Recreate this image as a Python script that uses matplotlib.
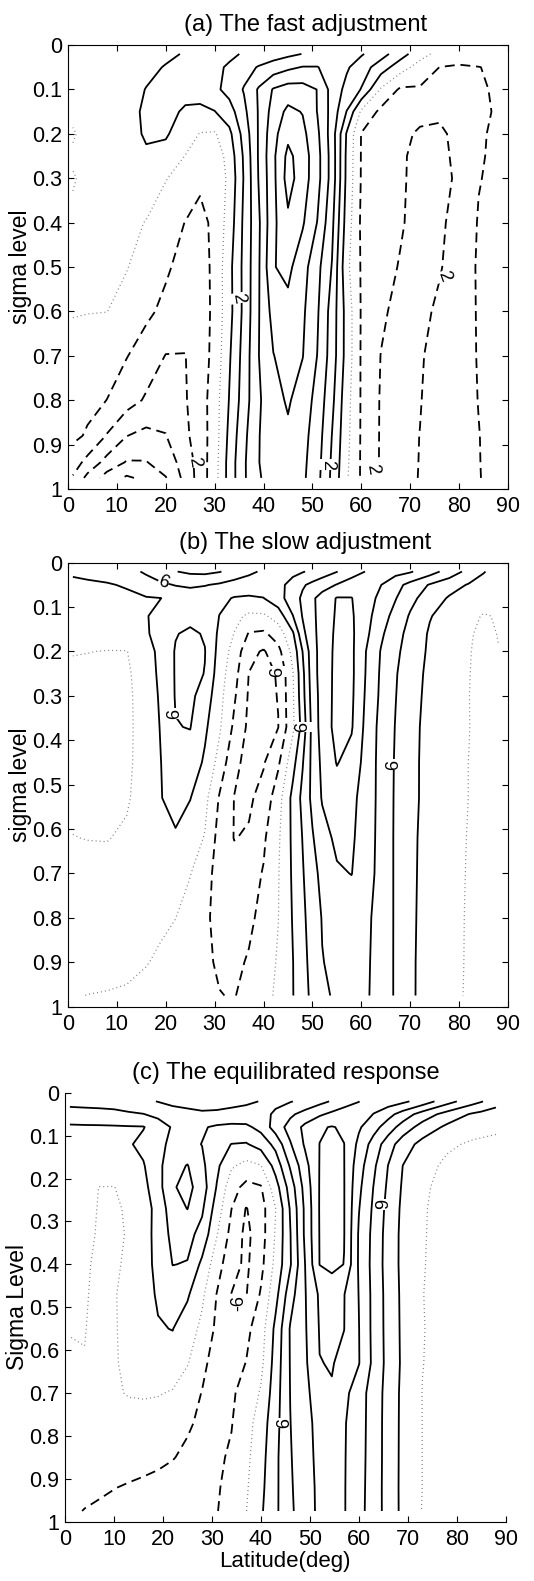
import numpy as np
import matplotlib.pyplot as plt

plt.rcParams['font.family'] = ['Liberation Sans', 'DejaVu Sans']
plt.rcParams['lines.dashed_pattern'] = [5.5, 3.2]
plt.rcParams['lines.dotted_pattern'] = [0.8, 2.4]

# values are given in units of the contour interval

# ---- (a) the fast adjustment ----
lat_a = [1, 4, 8, 12, 16, 20, 24, 27, 30, 33, 36, 39, 42, 45, 48, 51, 54, 57, 60, 64, 68, 72, 76, 80, 84, 88]
sig_a = [0.02, 0.05, 0.1, 0.15, 0.2, 0.25, 0.3, 0.4, 0.5, 0.6, 0.7, 0.8, 0.88, 0.94, 0.975]
psi_a = [
    [0.3, 0.37, 0.46, 0.55, 0.72, 0.87, 1.05, 1.31, 1.57, 1.83, 2.08, 2.31, 2.55, 2.78, 3.02, 3.27, 3.52, 3.4, 3.1, 2.4, 1.43, 0.39, -0.33, -0.58, -0.55, -0.5],
    [0.3, 0.38, 0.5, 0.64, 0.84, 1.04, 1.35, 1.59, 1.82, 2.11, 2.61, 3.08, 3.45, 3.8, 4.05, 4.04, 3.6, 3.13, 2.48, 1.5, 0.43, -0.42, -1.01, -1.1, -1.02, -0.85],
    [0.3, 0.39, 0.5, 0.75, 1.02, 1.2, 1.17, 1.3, 1.77, 2.35, 3.07, 4.11, 5.08, 5.43, 5.38, 4.98, 3.64, 2.71, 1.95, -0.1, -1.15, -1.1, -1.2, -1.2, -1.1, -0.9],
    [0.25, 0.36, 0.5, 0.8, 1.1, 1.15, 0.93, 0.84, 0.97, 1.56, 2.76, 4.08, 5.41, 6.24, 5.95, 4.97, 3.65, 1.97, -0.17, -1.23, -1.6, -1.83, -1.87, -1.7, -1.19, -0.9],
    [-0.1, 0.33, 0.5, 0.78, 1.07, 1.09, 0.56, -0.05, -0.1, 0.75, 2.38, 4.09, 5.67, 6.75, 6.26, 5.2, 3.53, 0.91, -1.04, -1.57, -1.86, -2.08, -2.13, -1.79, -1.14, -0.8],
    [0.15, 0.3, 0.5, 0.73, 0.92, 0.73, -0.03, -0.41, -0.6, 0.38, 2.15, 4.1, 5.8, 7.26, 6.5, 5.35, 3.6, 0.8, -1.06, -1.65, -1.93, -2.14, -2.19, -1.82, -1.1, -0.8],
    [-0.08, 0.25, 0.45, 0.55, 0.42, 0.05, -0.47, -0.8, -0.74, 0.23, 2.08, 4.05, 5.75, 7.4, 6.48, 5.35, 3.6, 0.77, -1.07, -1.65, -1.93, -2.16, -2.25, -1.86, -1.04, -0.8],
    [0.2, 0.24, 0.3, 0.2, -0.03, -0.6, -1.02, -1.3, -0.77, 0.43, 2.21, 3.84, 5.77, 6.8, 6.11, 4.97, 3.25, 0.56, -1.16, -1.7, -1.93, -2.26, -2.18, -1.62, -0.94, -0.75],
    [0.15, 0.15, 0.15, 0.04, -0.39, -0.86, -1.35, -1.42, -0.78, 0.71, 2.26, 3.89, 5.95, 6.24, 5.4, 4.29, 2.95, 0.25, -1.09, -1.74, -2.05, -2.4, -2.08, -1.5, -0.9, -0.7],
    [0.05, 0.03, 0.01, -0.33, -0.8, -1.24, -1.69, -1.55, -0.75, 0.67, 2.25, 3.94, 5.36, 5.72, 5.17, 4.12, 2.59, 0.62, -1.08, -1.85, -2.27, -2.26, -1.82, -1.35, -0.94, -0.7],
    [-0.3, -0.48, -0.69, -0.96, -1.47, -2.03, -2.02, -1.49, -0.71, 0.88, 2.4, 3.98, 4.97, 5.4, 5.03, 3.98, 2.53, 0.62, -1.1, -2.02, -2.4, -2.08, -1.7, -1.35, -0.95, -0.7],
    [-0.6, -0.77, -1.01, -1.59, -2.12, -2.6, -2.07, -1.48, -0.5, 1.05, 2.5, 3.87, 4.64, 5.12, 4.53, 3.68, 2.25, 0.38, -1.09, -2.08, -2.31, -2.03, -1.68, -1.34, -0.98, -0.7],
    [-0.8, -1.1, -2.07, -2.98, -3.27, -3.03, -2.19, -1.51, -0.5, 1.25, 2.75, 3.96, 4.52, 4.82, 4.33, 3.5, 1.98, 0.29, -1.1, -2.09, -2.24, -1.99, -1.67, -1.35, -1.02, -0.7],
    [-1.5, -2.32, -3.35, -4.08, -4.05, -3.5, -2.6, -1.54, -0.44, 1.4, 2.86, 3.98, 4.38, 4.67, 4.24, 3.37, 1.85, 0.19, -1.11, -2.1, -2.23, -1.98, -1.65, -1.35, -1.03, -0.7],
    [-2.1, -3.29, -4.44, -5.15, -4.75, -4.05, -2.69, -1.56, -0.41, 1.4, 2.86, 3.93, 4.32, 4.54, 4.19, 3.3, 1.79, 0.12, -1.11, -2.1, -2.23, -1.97, -1.66, -1.35, -1.04, -0.7],
]

# ---- (b) the slow adjustment ----
lat_b = [1, 4, 8, 12, 16, 19, 22, 25, 28, 31, 34, 37, 40, 43, 46, 48, 50, 52, 55, 58, 61, 64, 67, 70, 74, 78, 82, 85, 88]
sig_b = [0.02, 0.05, 0.08, 0.12, 0.16, 0.2, 0.25, 0.3, 0.37, 0.45, 0.53, 0.62, 0.7, 0.8, 0.9, 0.975]
psi_b = [
    [1.1, 1.19, 1.3, 1.69, 2.13, 2.55, 2.97, 3.18, 3.24, 3.05, 2.66, 2.2, 1.86, 1.6, 1.8, 1.94, 2.18, 2.51, 2.97, 3.55, 4.04, 4.25, 4.32, 4.1, 3.44, 2.57, 1.69, 1.06, 0.6],
    [0.85, 0.88, 0.94, 1.07, 1.6, 1.84, 2.04, 2.15, 2.05, 1.87, 1.6, 1.5, 1.4, 1.76, 2.29, 2.88, 3.25, 3.57, 4.05, 4.5, 4.6, 4.02, 3.34, 2.69, 1.92, 1.4, 0.92, 0.63, 0.35],
    [0.65, 0.7, 0.77, 0.84, 0.93, 0.99, 1.4, 1.48, 1.43, 1.22, 0.94, 0.88, 0.98, 1.63, 2.52, 3.19, 3.84, 4.39, 5.06, 5.03, 4.42, 3.76, 3.05, 2.28, 1.51, 0.9, 0.5, 0.34, 0.25],
    [0.45, 0.5, 0.57, 0.71, 0.94, 1.33, 1.63, 1.71, 1.6, 0.98, 0.25, -0.17, -0.15, 0.43, 1.98, 3.07, 3.79, 4.41, 5.12, 5.12, 4.33, 3.46, 2.66, 1.9, 1.06, 0.58, 0.18, -0.05, 0.05],
    [0.35, 0.4, 0.47, 0.63, 0.9, 1.36, 1.95, 2.17, 1.92, 0.79, -0.03, -1.07, -1.17, -0.55, 0.86, 2.73, 3.71, 4.43, 5.19, 5.17, 4.21, 3.17, 2.38, 1.67, 0.89, 0.45, 0.07, -0.15, 0.02],
    [0.05, 0.02, -0.03, -0.03, 0.6, 1.28, 2.07, 2.26, 2.03, 0.64, -0.39, -1.7, -2.11, -1.3, 0.31, 2.02, 3.6, 4.44, 5.24, 5.19, 3.98, 2.95, 2.2, 1.58, 0.84, 0.4, 0.04, -0.2, -0.02],
    [-0.2, -0.22, -0.25, -0.15, 0.5, 1.23, 2.07, 2.3, 1.97, 0.45, -0.65, -2.02, -2.26, -1.93, -0.06, 1.75, 3.56, 4.46, 5.26, 5.2, 3.93, 2.87, 2.08, 1.43, 0.78, 0.35, 0.02, -0.2, -0.1],
    [-0.25, -0.27, -0.3, -0.2, 0.45, 1.14, 2.06, 2.21, 1.59, 0.3, -0.87, -2.11, -2.26, -1.97, -0.12, 1.67, 3.44, 4.43, 5.29, 5.17, 3.85, 2.82, 2.03, 1.37, 0.74, 0.3, 0.01, -0.25, -0.15],
    [-0.3, -0.32, -0.35, -0.2, 0.4, 1.06, 1.97, 2.03, 1.19, 0.13, -1.19, -2.21, -2.27, -2.02, -0.19, 1.4, 3.31, 4.45, 5.31, 5.09, 3.72, 2.7, 1.96, 1.29, 0.7, 0.3, 0.02, -0.3, -0.2],
    [-0.3, -0.32, -0.35, -0.2, 0.45, 0.99, 1.56, 1.63, 0.84, -0.37, -1.77, -2.3, -2.08, -1.17, 0.67, 1.94, 3.28, 4.23, 5.05, 4.66, 3.62, 2.68, 1.91, 1.24, 0.71, 0.3, -0.01, -0.3, -0.25],
    [-0.2, -0.22, -0.25, -0.12, 0.5, 0.97, 1.3, 1.03, 0.29, -1.1, -2.02, -2.15, -1.67, -0.41, 1.29, 2.25, 3.25, 4.08, 4.53, 4.24, 3.58, 2.68, 1.89, 1.22, 0.73, 0.3, -0.01, -0.3, -0.25],
    [0.02, -0.02, -0.04, 0.15, 0.5, 0.85, 0.9, 0.48, -0.06, -1.4, -2.03, -1.9, -1.15, -0.15, 1.21, 2.04, 2.91, 3.64, 4.2, 4.13, 3.53, 2.66, 1.88, 1.19, 0.68, 0.27, -0.04, -0.3, -0.3],
    [0.25, 0.28, 0.33, 0.35, 0.35, 0.31, 0.2, 0.04, -0.68, -1.34, -1.63, -1.37, -0.94, -0.06, 1.15, 1.92, 2.69, 3.26, 3.89, 4.02, 3.44, 2.66, 1.88, 1.17, 0.68, 0.27, -0.06, -0.3, -0.35],
    [0.35, 0.37, 0.39, 0.37, 0.3, 0.16, 0.01, -0.4, -0.85, -1.28, -1.45, -1.18, -0.73, -0.02, 1.07, 1.79, 2.48, 3.05, 3.38, 3.49, 3.18, 2.66, 1.88, 1.15, 0.67, 0.26, -0.08, -0.3, -0.35],
    [0.3, 0.3, 0.3, 0.18, 0.04, -0.14, -0.35, -0.61, -0.88, -1.09, -1.18, -0.92, -0.44, 0.09, 0.98, 1.69, 2.34, 2.97, 3.21, 3.36, 3.13, 2.64, 1.88, 1.13, 0.66, 0.26, -0.09, -0.3, -0.35],
    [0.05, -0.01, -0.05, -0.09, -0.25, -0.4, -0.55, -0.7, -0.86, -0.98, -1.04, -0.71, -0.31, 0.18, 0.97, 1.61, 2.24, 2.82, 3.15, 3.27, 3.1, 2.64, 1.88, 1.13, 0.65, 0.26, -0.11, -0.3, -0.35],
]

# ---- (c) the equilibrated response ----
lat_c = [1, 4, 7, 10, 13, 16, 19, 22, 25, 28, 31, 34, 37, 40, 43, 46, 49, 52, 54.5, 57, 60, 63, 66, 69, 73, 78, 83, 85, 88]
sig_c = [0.02, 0.05, 0.08, 0.12, 0.17, 0.22, 0.27, 0.33, 0.4, 0.47, 0.55, 0.63, 0.7, 0.77, 0.85, 0.92, 0.975]
psi_c = [
    [2.3, 2.33, 2.37, 2.4, 2.61, 2.82, 3.03, 3.23, 3.33, 3.38, 3.35, 3.27, 3.14, 2.97, 2.8, 2.94, 3.27, 3.72, 4.08, 4.51, 4.98, 5.36, 5.5, 5.21, 4.58, 3.4, 2.41, 2.07, 1.5],
    [1.6, 1.65, 1.68, 1.75, 1.86, 1.97, 2.26, 2.6, 2.73, 2.86, 2.83, 2.72, 2.66, 2.7, 3.14, 3.82, 4.36, 4.85, 5.22, 5.56, 5.42, 4.98, 4.33, 3.57, 2.56, 1.62, 0.91, 0.73, 0.45],
    [0.85, 0.87, 0.88, 0.9, 0.93, 0.95, 1.5, 2.1, 2.2, 2.1, 1.85, 1.75, 1.8, 2.3, 3.45, 4.38, 5.23, 5.9, 6.05, 5.87, 5.13, 4.38, 3.5, 2.57, 1.6, 0.81, 0.35, 0.27, 0.15],
    [0.6, 0.65, 0.7, 0.75, 0.9, 1.25, 1.83, 2.15, 2.23, 1.98, 1.4, 0.98, 0.92, 1.38, 2.29, 3.91, 5.12, 6.01, 6.25, 6.01, 4.77, 3.6, 2.46, 1.47, 0.69, 0.15, -0.11, -0.16, -0.2],
    [0.45, 0.48, 0.52, 0.55, 0.72, 0.92, 1.75, 2.6, 3.05, 2.21, 1.21, 0.13, -0.3, -0.04, 1.37, 3.12, 4.65, 6.03, 6.3, 6.02, 4.43, 3.2, 1.98, 0.99, 0.33, -0.18, -0.3, -0.3, -0.3],
    [0.35, 0.2, -0.01, -0.02, 0.3, 0.7, 1.63, 2.9, 3.3, 2.5, 0.94, -0.62, -1.28, -1.08, 0.57, 2.44, 4.35, 6.05, 6.35, 6.03, 4.22, 2.98, 1.82, 0.88, 0.15, -0.3, -0.33, -0.33, -0.35],
    [0.3, 0.15, -0.03, -0.09, 0.08, 0.61, 1.29, 2.6, 3.02, 2.15, 0.53, -0.99, -2.05, -1.42, -0.02, 2.09, 4.18, 6.06, 6.4, 6.03, 4.05, 2.84, 1.68, 0.8, 0.09, -0.35, -0.38, -0.39, -0.4],
    [0.25, 0.1, -0.04, -0.1, 0.04, 0.59, 1.33, 2.28, 2.3, 1.68, 0.06, -1.32, -2.24, -1.46, 0.09, 1.95, 4.17, 6.04, 6.4, 6.03, 3.9, 2.73, 1.59, 0.76, 0.07, -0.35, -0.38, -0.39, -0.4],
    [0.2, 0.05, -0.07, -0.15, 0.17, 0.67, 1.23, 2.02, 1.95, 0.77, -0.57, -1.65, -2.18, -1.29, 0.27, 1.9, 3.98, 6.02, 6.3, 5.98, 3.88, 2.69, 1.57, 0.76, 0.05, -0.35, -0.38, -0.39, -0.4],
    [0.1, 0.03, -0.08, -0.08, 0.33, 0.73, 1.08, 1.4, 1.13, 0.19, -1.03, -2.02, -2.05, -0.9, 0.67, 2.58, 3.93, 5.15, 5.3, 5.03, 3.98, 2.73, 1.63, 0.79, 0.02, -0.35, -0.38, -0.39, -0.4],
    [0.03, 0.01, -0.08, -0.08, 0.27, 0.63, 0.95, 1.02, 0.5, -0.23, -1.2, -1.8, -1.24, -0.48, 1.24, 3.08, 3.89, 5.06, 5.13, 5.01, 4.03, 2.73, 1.65, 0.81, 0.04, -0.35, -0.38, -0.39, -0.4],
    [-0.1, -0.01, -0.15, -0.1, 0.23, 0.55, 0.75, 0.68, 0.07, -0.77, -1.41, -1.36, -0.98, -0.27, 1.42, 3.05, 3.82, 4.98, 5.04, 4.82, 4.05, 2.77, 1.67, 0.83, 0.02, -0.35, -0.38, -0.39, -0.4],
    [-0.2, -0.22, -0.25, -0.15, 0.08, 0.14, 0.08, -0.1, -0.58, -1.03, -1.4, -1.13, -0.66, 0.1, 1.55, 3.02, 3.76, 4.5, 4.95, 4.3, 3.41, 2.6, 1.61, 0.78, -0.02, -0.35, -0.38, -0.39, -0.4],
    [-0.35, -0.38, -0.42, -0.45, -0.5, -0.54, -0.59, -0.73, -0.91, -1.13, -1.24, -1.04, -0.41, 0.48, 1.65, 2.98, 3.71, 4.29, 4.52, 4.09, 3.41, 2.56, 1.6, 0.77, -0.01, -0.35, -0.38, -0.39, -0.4],
    [-0.5, -0.54, -0.58, -0.62, -0.69, -0.75, -0.84, -0.97, -1.13, -1.3, -1.14, -0.89, -0.24, 0.63, 1.77, 2.92, 3.68, 4.23, 4.43, 4.07, 3.38, 2.55, 1.6, 0.76, -0.01, -0.35, -0.38, -0.39, -0.4],
    [-0.75, -0.83, -0.9, -0.98, -1.06, -1.14, -1.22, -1.27, -1.29, -1.25, -1.09, -0.72, -0.12, 0.75, 1.79, 2.86, 3.65, 4.18, 4.39, 4.06, 3.36, 2.52, 1.6, 0.75, -0.01, -0.35, -0.38, -0.39, -0.4],
    [-0.9, -1.02, -1.1, -1.2, -1.24, -1.28, -1.29, -1.28, -1.26, -1.16, -1.04, -0.58, -0.02, 0.86, 1.81, 2.8, 3.63, 4.17, 4.36, 4.06, 3.34, 2.5, 1.62, 0.75, -0.04, -0.35, -0.38, -0.39, -0.4],
]

neg_levels = [-6, -5, -4, -3, -2, -1]
pos_levels = [1, 2, 3, 4, 5, 6, 7, 8]
yticks = np.arange(0, 1.01, 0.1)
ytick_labels = ['0', '0.1', '0.2', '0.3', '0.4', '0.5', '0.6', '0.7', '0.8', '0.9', '1']


def draw(ax, lat, sig, psi):
    psi = np.array(psi)
    ax.contour(lat, sig, psi, levels=neg_levels, colors='k', linewidths=1.3, linestyles='dashed')
    ax.contour(lat, sig, psi, levels=[0], colors='0.5', linewidths=0.9, linestyles='dotted')
    ax.contour(lat, sig, psi, levels=pos_levels, colors='k', linewidths=1.3, linestyles='solid')
    ax.set_xlim(0, 90)
    ax.set_ylim(1, 0)
    ax.set_xticks(range(0, 91, 10))
    ax.set_yticks(yticks)
    ax.set_yticklabels(ytick_labels)
    ax.tick_params(direction='in', length=4, width=0.8, labelsize=15.5)
    ax.tick_params(axis='x', pad=5)
    ax.tick_params(axis='y', pad=4)


def clab(ax, x, y, s, rot):
    ax.text(x, y, s, rotation=rot, ha='center', va='center', fontsize=13,
            bbox=dict(fc='white', ec='none', pad=0.3))


fig = plt.figure(figsize=(5.34, 15.81), dpi=100)

ax1 = fig.add_axes([0.1273, 0.6907, 0.824, 0.2808])
draw(ax1, lat_a, sig_a, psi_a)
ax1.tick_params(top=True, right=True)
ax1.set_ylabel('sigma level', fontsize=16.5, labelpad=0)
ax1.set_title('(a) The fast adjustment', fontsize=17, x=0.54, pad=10)
for x, y, r in [(25.8, 0.94, -80), (34.8, 0.57, -80), (53.2, 0.945, -90), (62.3, 0.955, -80), (77.0, 0.52, -70)]:
    clab(ax1, x, y, '2', r)

ax2 = fig.add_axes([0.1273, 0.3633, 0.824, 0.2808])
draw(ax2, lat_b, sig_b, psi_b)
ax2.tick_params(top=True, right=True)
ax2.set_ylabel('sigma level', fontsize=16.5, labelpad=0)
ax2.set_title('(b) The slow adjustment', fontsize=17, x=0.54, pad=10)
for x, y, r in [(19.5, 0.045, -20), (21.9, 0.34, 90), (42.9, 0.245, 90), (48.0, 0.37, 90), (66.6, 0.455, 90)]:
    clab(ax2, x, y, '6', r)

ax3 = fig.add_axes([0.1217, 0.0375, 0.8253, 0.2713])
draw(ax3, lat_c, sig_c, psi_c)
ax3.spines['top'].set_visible(False)
ax3.spines['right'].set_visible(False)
ax3.set_ylabel('Sigma Level', fontsize=16.5, labelpad=0)
ax3.set_xlabel('Latitude(deg)', fontsize=16, labelpad=1)
ax3.set_title('(c) The equilibrated response', fontsize=17, pad=10)
clab(ax3, 65.0, 0.26, '9', 90)
clab(ax3, 35.5, 0.49, '-6', 90)
clab(ax3, 43.6, 0.77, '9', -90)

fig.savefig('out.png', dpi=100)
